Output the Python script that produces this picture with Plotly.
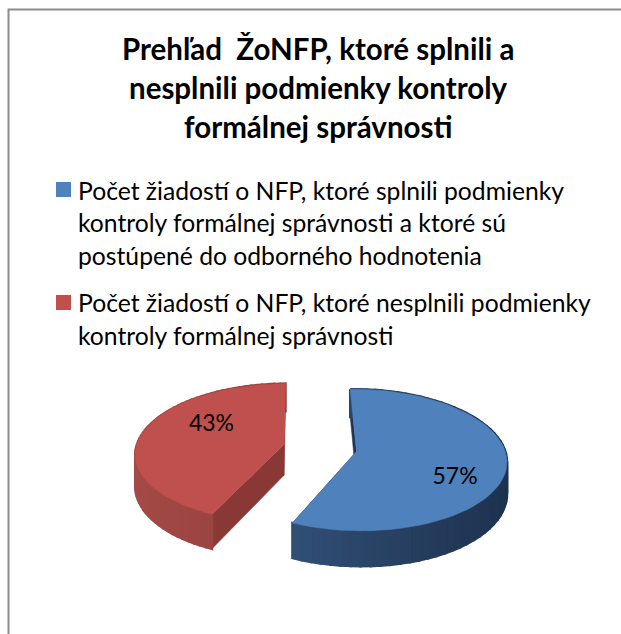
import math
import plotly.graph_objects as go

TITLE_LINES = ["Prehľad  ŽoNFP, ktoré splnili a", "nesplnili podmienky kontroly", "formálnej správnosti"]
CATEGORY_LINES = [
    ["Počet žiadostí o NFP, ktoré splnili podmienky",
     "kontroly formálnej správnosti a ktoré sú",
     "postúpené do odborného hodnotenia"],
    ["Počet žiadostí o NFP, ktoré nesplnili podmienky",
     "kontroly formálnej správnosti"],
]
VALUES = [57, 43]
LABELS = ["57%", "43%"]
LABEL_RADII = [0.68, 0.5]
TOP_COLORS = ["#4F81BD", "#C0504D"]
SIDE_LIGHT = [(60, 95, 140), (165, 75, 72)]
SIDE_DARK = [(30, 50, 78), (135, 55, 52)]
CUT_COLORS = ["#1F3552", "#8A3835"]

W, H = 621, 634
CX, CY = 320, 448
RX, RY = 148, 69
K = 0.119
DEPTH = 31
PULL = 0.25
START = -1.0
TEXT = "#000000"
FONT = "Lato"


def project(u, v, drop=0.0):
    s = 1 / (1 + K * v)
    return CX + RX * u * s, CY - RY * v * s + drop * s


def arc(center, a0, a1, n=60):
    pts = []
    for i in range(n + 1):
        t = math.radians(a0 + (a1 - a0) * i / n)
        pts.append((center[0] + math.sin(t), center[1] + math.cos(t)))
    return pts


def poly(fig, pts, color, lw=0.5):
    xs = [p[0] for p in pts] + [pts[0][0]]
    ys = [p[1] for p in pts] + [pts[0][1]]
    fig.add_trace(go.Scatter(x=xs, y=ys, mode="lines", fill="toself", fillcolor=color,
                             line=dict(color=color, width=lw), hoverinfo="skip", showlegend=False))


fig = go.Figure()
total = sum(VALUES)
angle = START
slices = []
for i, val in enumerate(VALUES):
    a0, a1 = angle, angle + 360 * val / total
    angle = a1
    mid = math.radians((a0 + a1) / 2)
    c = (PULL * math.sin(mid), PULL * math.cos(mid))
    slices.append((i, a0, a1, mid, c))

for i, a0, a1, mid, c in slices:
    edge = arc(c, a0, a1)
    # radial cut walls
    for a in (a0, a1):
        t = math.radians(a)
        p = (c[0] + math.sin(t), c[1] + math.cos(t))
        poly(fig, [project(*c), project(*p), project(*p, DEPTH), project(*c, DEPTH)], CUT_COLORS[i])
    # outer wall, shaded band by band
    for j in range(len(edge) - 1):
        p, q = edge[j], edge[j + 1]
        frac = max(0.0, min(1.0, 1 - abs(p[0] - c[0] + 1) / 2))  # 1 at left, 0 at right
        col = tuple(round(SIDE_DARK[i][k] + (SIDE_LIGHT[i][k] - SIDE_DARK[i][k]) * frac ** 1.2) for k in range(3))
        poly(fig, [project(*p), project(*q), project(*q, DEPTH), project(*p, DEPTH)], "rgb%s" % (col,), 2.5)
    # top face
    poly(fig, [project(*c)] + [project(*p) for p in edge], TOP_COLORS[i])

# data labels
label_x, label_y = [], []
for i, a0, a1, mid, c in slices:
    cx, cy = project(*c)
    label_x.append(cx + RX * LABEL_RADII[i] * math.sin(mid))
    label_y.append(cy - RY * LABEL_RADII[i] * 2.8 * math.cos(mid))
fig.add_trace(go.Scatter(x=label_x, y=label_y, mode="text", text=LABELS, hoverinfo="skip", showlegend=False,
                         textposition="middle center",
                         textfont=dict(family=FONT, size=23, color=TEXT)))

# legend
LEGEND_CENTERS = [[190, 222, 255], [302, 335]]
fig.add_trace(go.Scatter(x=[63.5, 63.5], y=[189.5, 302.5], mode="markers", hoverinfo="skip", showlegend=False,
                         marker=dict(symbol="square", size=15, color=TOP_COLORS, line=dict(width=0))))
annotations = []
for lines, ys in zip(CATEGORY_LINES, LEGEND_CENTERS):
    for line, y in zip(lines, ys):
        annotations.append(dict(x=75.5, y=y, xref="x", yref="y", text=line, showarrow=False, xanchor="left",
                                yanchor="middle", font=dict(family=FONT, size=24.7, color=TEXT)))
for line, y in zip(TITLE_LINES, [48, 87, 126]):
    annotations.append(dict(x=318, y=y, xref="x", yref="y", text="<b>%s</b>" % line, showarrow=False,
                            xanchor="center", yanchor="middle", font=dict(family=FONT, size=29.5, color=TEXT)))

fig.update_layout(
    width=W, height=H, margin=dict(l=0, r=0, t=0, b=0), autosize=False,
    paper_bgcolor="white", plot_bgcolor="white", showlegend=False, annotations=annotations,
    xaxis=dict(range=[0, W], visible=False, fixedrange=True),
    yaxis=dict(range=[H, 0], visible=False, fixedrange=True),
    shapes=[dict(type="path", path="M 8.5 634 L 8.5 9.5 L 621 9.5", xref="x", yref="y",
                 line=dict(color="#8C8C8C", width=2))],
)
fig.write_html("out.html", config={"displayModeBar": False},
               post_script="document.body.style.margin='0';document.body.style.overflow='hidden';")
